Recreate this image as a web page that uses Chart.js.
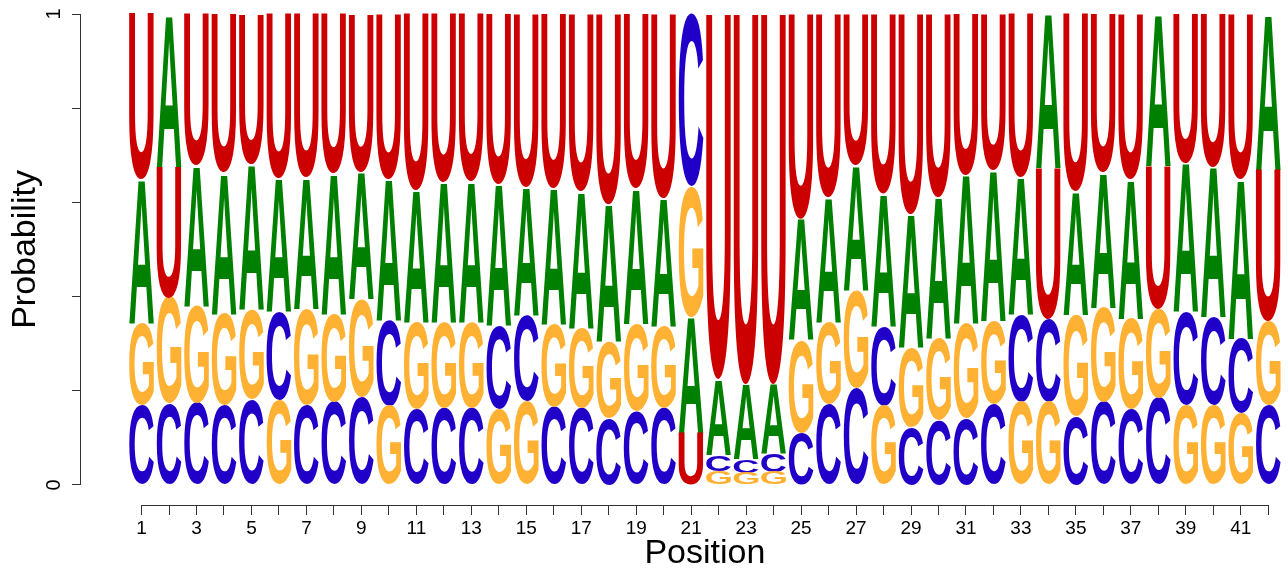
<!DOCTYPE html>
<html>
<head>
<meta charset="utf-8">
<script src="https://cdn.jsdelivr.net/npm/chart.js@4"></script>
<style>
  html, body { margin: 0; padding: 0; background: #fff; }
  #wrap { width: 1288px; height: 568px; }
</style>
</head>
<body>
<div id="wrap"><canvas id="logoChart" width="1288" height="568"></canvas></div>
<script>
// positions along the sequence
const positions = [1,2,3,4,5,6,7,8,9,10,11,12,13,14,15,16,17,18,19,20,21,
                   22,23,24,25,26,27,28,29,30,31,32,33,34,35,36,37,38,39,40,41,42];

// probability of each base at each position
const probA = [0.305,0.324,0.297,0.299,0.310,0.283,0.279,0.297,0.270,0.300,0.281,
               0.297,0.299,0.302,0.272,0.289,0.290,0.293,0.288,0.272,0.247,
               0.161,0.159,0.148,0.258,0.266,0.266,0.282,0.284,0.301,0.316,
               0.320,0.293,0.327,0.261,0.287,0.296,0.322,0.316,0.319,0.339,0.331];
const probC = [0.170,0.172,0.174,0.169,0.181,0.188,0.170,0.176,0.187,0.181,0.160,
               0.164,0.164,0.177,0.183,0.166,0.164,0.141,0.156,0.164,0.366,
               0.034,0.029,0.038,0.110,0.172,0.206,0.169,0.122,0.137,0.141,
               0.172,0.184,0.177,0.145,0.176,0.160,0.185,0.198,0.187,0.158,0.169];
const probG = [0.173,0.226,0.207,0.195,0.191,0.180,0.204,0.188,0.208,0.168,0.185,
               0.181,0.181,0.160,0.177,0.175,0.170,0.162,0.185,0.173,0.277,
               0.030,0.026,0.028,0.197,0.173,0.208,0.168,0.169,0.173,0.200,
               0.177,0.176,0.176,0.216,0.200,0.193,0.189,0.169,0.169,0.152,0.178];
const probU = [0.352,0.278,0.322,0.337,0.318,0.349,0.347,0.339,0.335,0.351,0.374,
               0.358,0.356,0.361,0.368,0.370,0.376,0.404,0.371,0.391,0.110,
               0.775,0.786,0.786,0.435,0.389,0.320,0.381,0.425,0.389,0.343,
               0.331,0.347,0.320,0.378,0.337,0.351,0.304,0.317,0.325,0.351,0.322];

const bases = ['A', 'C', 'G', 'U'];
const baseColors = { A: '#008000', C: '#2000C8', G: '#FFB133', U: '#CC0000' };

const yTicks = [0, 0.2, 0.4, 0.6, 0.8, 1];

// stack letters at each position, smallest at the bottom
function buildStacks() {
    const probs = { A: probA, C: probC, G: probG, U: probU };
    const out = { A: [], C: [], G: [], U: [] };
    positions.forEach((pos, i) => {
        const order = bases.slice().sort((a, b) => probs[a][i] - probs[b][i]);
        let bottom = 0;
        order.forEach(b => {
            const top = bottom + probs[b][i];
            out[b].push({ x: pos, y: [bottom, top] });
            bottom = top;
        });
    });
    return out;
}

const stacks = buildStacks();

// draw each bar as a stretched letter
const letterPlugin = {
    id: 'letters',
    afterDatasetsDraw(chart) {
        const ctx = chart.ctx;
        ctx.save();
        ctx.font = 'bold 100px "Liberation Sans", Arial, sans-serif';
        ctx.textAlign = 'left';
        ctx.textBaseline = 'alphabetic';
        chart.data.datasets.forEach((ds, di) => {
            const meta = chart.getDatasetMeta(di);
            const m = ctx.measureText(ds.label);
            const gw = m.actualBoundingBoxLeft + m.actualBoundingBoxRight;
            const gh = m.actualBoundingBoxAscent + m.actualBoundingBoxDescent;
            ctx.fillStyle = baseColors[ds.label];
            meta.data.forEach(el => {
                const p = el.getProps(['x', 'y', 'base', 'width'], true);
                const top = Math.min(p.y, p.base);
                const h = Math.abs(p.base - p.y);
                if (h < 0.5) return;
                ctx.save();
                ctx.translate(p.x - p.width / 2, top);
                ctx.scale(p.width / gw, h / gh);
                ctx.fillText(ds.label, m.actualBoundingBoxLeft, m.actualBoundingBoxAscent);
                ctx.restore();
            });
        });
        ctx.restore();
    }
};

// axis lines (only over the data range, as in R) and axis titles
const axisPlugin = {
    id: 'axisLines',
    afterDraw(chart) {
        const ctx = chart.ctx;
        const xs = chart.scales.x, ys = chart.scales.y;
        const left = Math.round(chart.chartArea.left) + 0.5;
        const bottom = Math.round(chart.chartArea.bottom) + 0.5;
        ctx.save();
        ctx.strokeStyle = '#333';
        ctx.lineWidth = 1;
        ctx.beginPath();
        ctx.moveTo(left, ys.getPixelForValue(0));
        ctx.lineTo(left, ys.getPixelForValue(1));
        ctx.moveTo(xs.getPixelForValue(positions[0]), bottom);
        ctx.lineTo(xs.getPixelForValue(positions[positions.length - 1]), bottom);
        ctx.stroke();

        ctx.fillStyle = '#000';
        ctx.font = '34px "Liberation Sans", Arial, sans-serif';
        ctx.textAlign = 'center';
        ctx.textBaseline = 'alphabetic';
        const midX = (xs.getPixelForValue(positions[0]) + xs.getPixelForValue(positions[positions.length - 1])) / 2;
        ctx.fillText('Position', midX, 563);
        const midY = (ys.getPixelForValue(0) + ys.getPixelForValue(1)) / 2;
        ctx.translate(35, midY);
        ctx.rotate(-Math.PI / 2);
        ctx.fillText('Probability', 0, 0);
        ctx.restore();
    }
};

const ctx = document.getElementById('logoChart').getContext('2d');
const logoChart = new Chart(ctx, {
    type: 'bar',
    data: {
        datasets: bases.map(b => ({
            label: b,
            data: stacks[b],
            backgroundColor: 'rgba(0,0,0,0)',
            borderWidth: 0,
            grouped: false,
            barPercentage: 0.9,
            categoryPercentage: 1
        }))
    },
    options: {
        responsive: false,
        animation: false,
        events: [],
        layout: { padding: { left: 0, right: 6, top: 14, bottom: 0 } },
        plugins: {
            legend: { display: false },
            tooltip: { enabled: false },
            title: { display: false }
        },
        scales: {
            x: {
                type: 'linear',
                min: -1.24,
                max: 42.5,
                offset: false,
                afterBuildTicks: scale => { scale.ticks = positions.map(p => ({ value: p })); },
                afterFit: scale => {
                    scale.height = 63;
                    scale.paddingLeft = 0;
                    scale.paddingRight = 0;
                },
                grid: { offset: false, drawOnChartArea: false, drawTicks: true, tickLength: 10, color: '#333' },
                border: { display: false },
                ticks: {
                    autoSkip: false,
                    maxRotation: 0,
                    minRotation: 0,
                    padding: 2,
                    color: '#000',
                    font: { family: '"Liberation Sans", Arial, sans-serif', size: 19 },
                    callback: v => (v % 2 === 1 ? String(v) : '')
                }
            },
            y: {
                type: 'linear',
                min: -0.0425,
                max: 1,
                afterBuildTicks: scale => { scale.ticks = yTicks.map(v => ({ value: v })); },
                afterFit: scale => {
                    scale.width = 80;
                    scale.paddingTop = 0;
                    scale.paddingBottom = 0;
                },
                grid: { drawOnChartArea: false, drawTicks: true, tickLength: 8, color: '#333' },
                border: { display: false },
                ticks: {
                    minRotation: 90,
                    maxRotation: 90,
                    crossAlign: 'center',
                    padding: 12,
                    color: '#000',
                    font: { family: '"Liberation Sans", Arial, sans-serif', size: 20 },
                    callback: v => (v === 0 || v === 1 ? String(v) : '')
                }
            }
        }
    },
    plugins: [letterPlugin, axisPlugin]
});
</script>
</body>
</html>
